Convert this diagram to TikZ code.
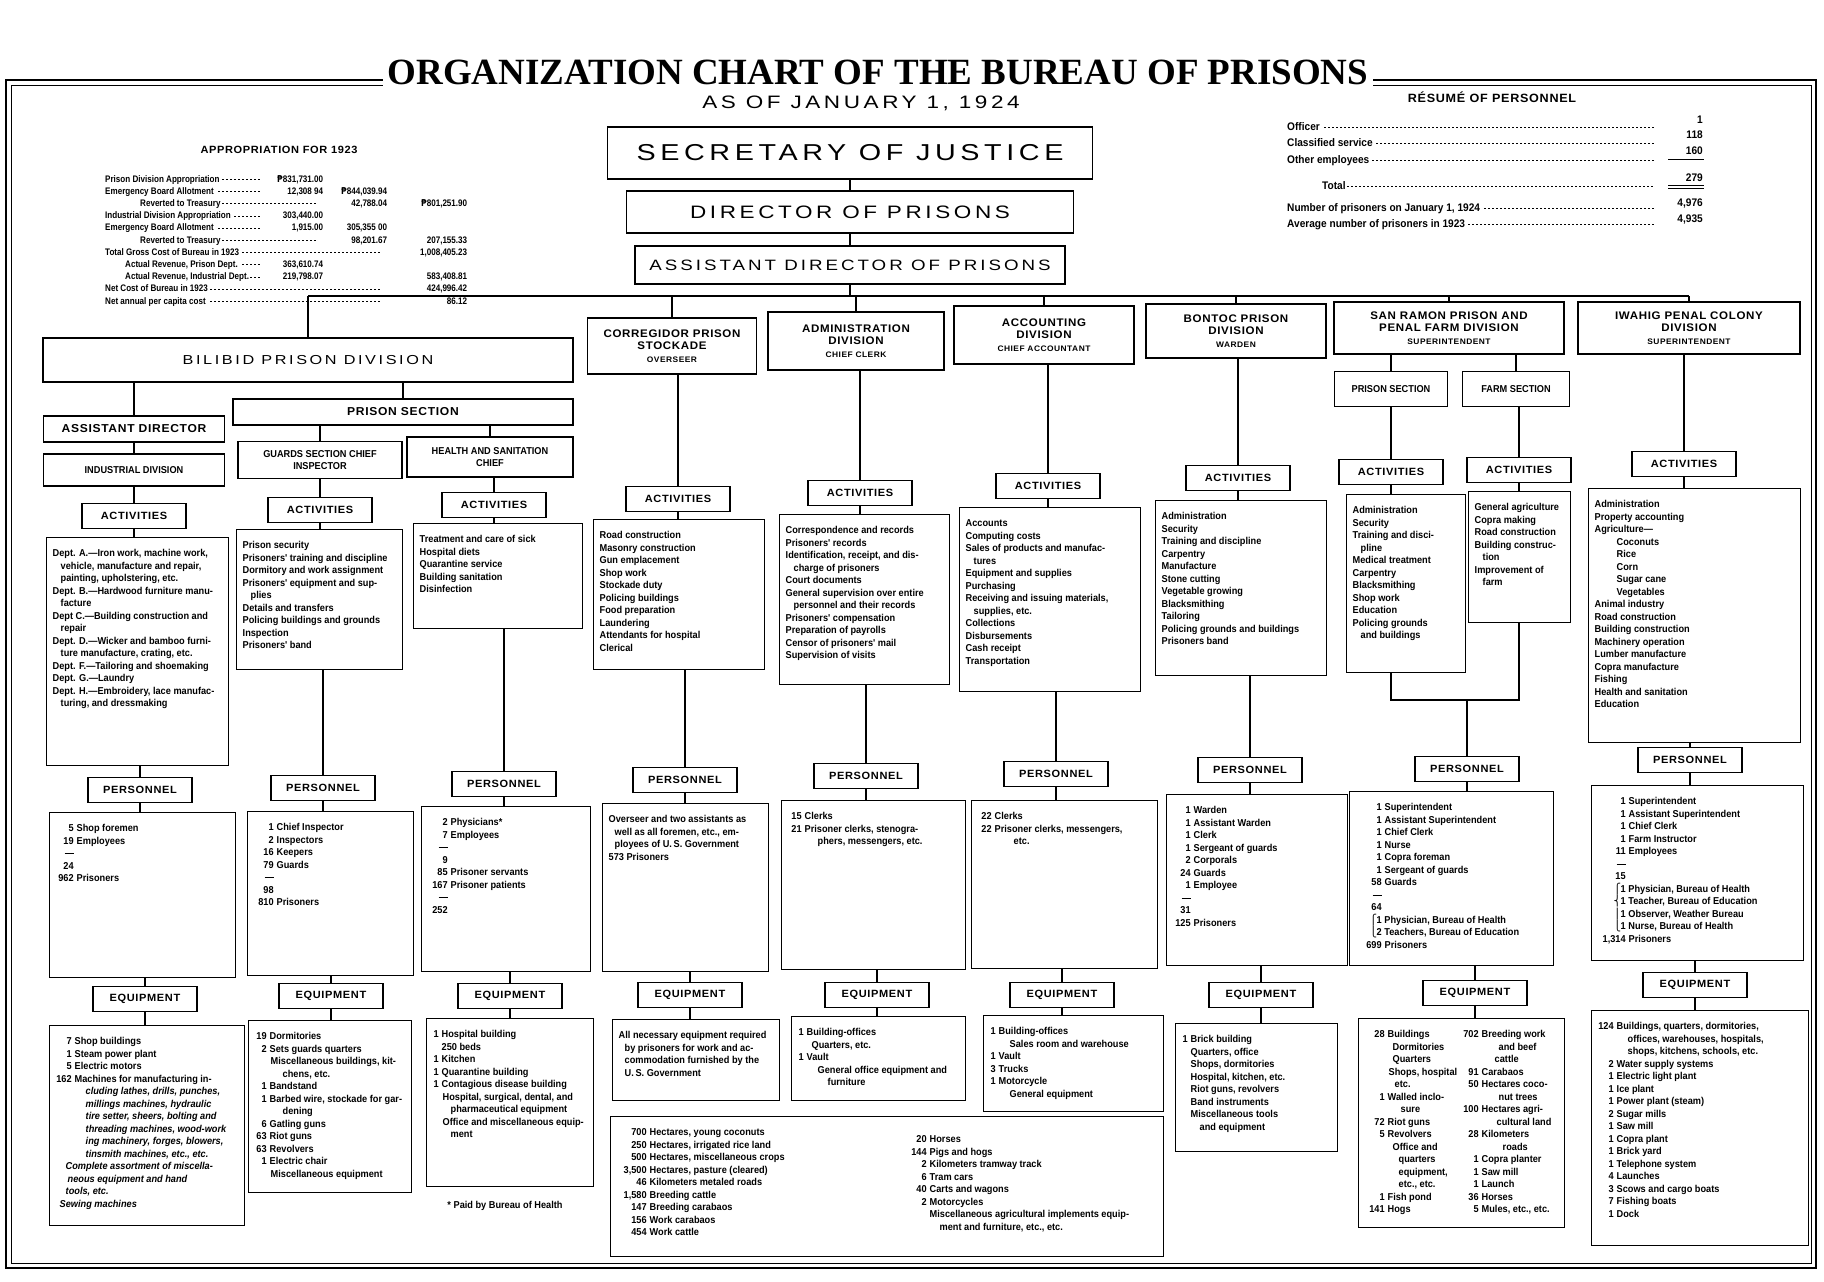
\documentclass[tikz,border=0pt]{standalone}
\usepackage{fontspec}
\setmainfont{Liberation Sans}
\newfontfamily\chartfont{Liberation Sans}[FakeStretch=0.92]
\newfontfamily\tablefont{Liberation Sans}[FakeStretch=0.85]
\newfontfamily\headfont{Liberation Sans}[FakeStretch=1.05,LetterSpace=6]
\newfontfamily\widefont{Liberation Sans}[FakeStretch=1.25,LetterSpace=20]
\newfontfamily\titlefont{Liberation Serif}
\newfontfamily\pesofont{DejaVu Sans}[FakeStretch=0.85]
\newfontfamily\bracefont{DejaVu Sans}

\newcommand\listfont{\chartfont\bfseries\fontsize{10}{12.5}\selectfont}
\newcommand\peso{{\pesofont ₱}}
\newcommand\cell[3]{\parbox[t][\dimexpr#2pt-14pt\relax][t]{\dimexpr#1pt-12pt\relax}{\raggedright\vspace*{5pt}#3}}
\newcommand\cnt[2][14pt]{\makebox[#1][r]{#2}\hspace{3pt}}
\newcommand\ind[1][17pt]{\hspace*{#1}}
\newcommand\brc[1]{\makebox[7pt][l]{\bracefont\mdseries #1}}
\newcommand\sumline[1][14pt]{\makebox[#1][r]{\rule[3pt]{9pt}{0.9pt}}}
\newcommand\leadfill{\leaders\hbox to 4pt{\hss\rule[2.6pt]{2.2pt}{0.5pt}\hss}\hfill\kern4pt}
\newcommand\apA[5]{\hbox to 362pt{\hbox to 160pt{\hspace*{#1}#2\leadfill}\hbox to 58pt{\hfill#3}\hbox to 64pt{\hfill#4}\hbox to 80pt{\hfill#5}}}
\newcommand\apB[4]{\hbox to 362pt{\hbox to 218pt{\hspace*{#1}#2\leadfill}\hbox to 64pt{\hfill#3}\hbox to 80pt{\hfill#4}}}
\newcommand\apC[3]{\hbox to 362pt{\hbox to 282pt{\hspace*{#1}#2\leadfill}\hbox to 80pt{\hfill#3}}}
\newcommand\joinv[2]{\draw[link] (#1) -- (#1 |- #2);}

\begin{document}
\begin{tikzpicture}[x=1pt,y=-1pt,
  box/.style={draw,line width=1.4pt},
  link/.style={line width=1.4pt},
  tag/.style={box,font=\headfont\bfseries\fontsize{10.5}{12}\selectfont,minimum width=104pt,minimum height=25pt,inner sep=2pt},
  list/.style={box,anchor=north west,font=\listfont,inner xsep=6pt,inner ysep=7pt},
  chiefbox/.style={box,inner sep=2pt},
  division/.style={box,align=center,font=\headfont\bfseries\fontsize{11}{12.5}\selectfont,inner sep=2pt},
  unit/.style={box,align=center,font=\chartfont\bfseries\fontsize{10}{11.5}\selectfont,inner sep=2pt},
  rowtext/.style={anchor=base west,inner sep=0pt,font=\chartfont\bfseries\fontsize{11}{13}\selectfont},
  rowval/.style={anchor=base east,inner sep=0pt,font=\chartfont\bfseries\fontsize{11}{13}\selectfont},
  rulestyle/.style={line width=0.9pt}]
\useasboundingbox (0,0) rectangle (1824,1282);
\fill[white] (0,0) rectangle (1824,1282);

% frame
\draw[line width=1.8pt] (6,80) rectangle (1816,1268);
\draw[line width=0.6pt] (11,85) rectangle (1811,1263);

% heading
\node[fill=white,inner sep=5pt,font=\titlefont\bfseries\fontsize{37}{40}\selectfont] (title) at (878,72) {ORGANIZATION CHART OF THE BUREAU OF PRISONS};
\node[font=\widefont\fontsize{18}{21}\selectfont] (asof) at (861,103) {AS OF JANUARY 1, 1924};

% appropriation
\node[font=\headfont\bfseries\fontsize{10.5}{12}\selectfont] (apptitle) at (279,150) {APPROPRIATION FOR 1923};
\node[anchor=north west,inner sep=0pt,font=\tablefont\bfseries\fontsize{9.5}{12.2}\selectfont] (apptable) at (105,175) {\vbox{%
  \apA{0pt}{Prison Division Appropriation}{\peso831,731.00}{}{}
  \apA{0pt}{Emergency Board Allotment}{12,308 94}{\peso844,039.94}{}
  \apB{35pt}{Reverted to Treasury}{42,788.04}{\peso801,251.90}
  \apA{0pt}{Industrial Division Appropriation}{303,440.00}{}{}
  \apA{0pt}{Emergency Board Allotment}{1,915.00}{305,355 00}{}
  \apB{35pt}{Reverted to Treasury}{98,201.67}{207,155.33}
  \apC{0pt}{Total Gross Cost of Bureau in 1923}{1,008,405.23}
  \apA{20pt}{Actual Revenue, Prison Dept.}{363,610.74}{}{}
  \apA{20pt}{Actual Revenue, Industrial Dept.}{219,798.07}{}{583,408.81}
  \apC{0pt}{Net Cost of Bureau in 1923}{424,996.42}
  \apC{0pt}{Net annual per capita cost}{86.12}}};

% resume
\node[font=\headfont\bfseries\fontsize{12}{14}\selectfont] (restitle) at (1492,97) {RÉSUMÉ OF PERSONNEL};
\node[rowtext] (rofficer) at (1287,130) {\hbox to 373pt{Officer\leadfill}};
\node[rowtext] (rclass) at (1287,146) {\hbox to 373pt{Classified service\leadfill}};
\node[rowtext] (rother) at (1287,163) {\hbox to 373pt{Other employees\leadfill}};
\node[rowtext] (rtotal) at (1322,189) {\hbox to 338pt{Total\leadfill}};
\node[rowtext] (rnumber) at (1287,211) {\hbox to 373pt{Number of prisoners on January 1, 1924\leadfill}};
\node[rowtext] (raverage) at (1287,227) {\hbox to 373pt{Average number of prisoners in 1923\leadfill}};
\node[rowval] (vofficer) at (1703,123) {1};
\node[rowval] (vclass) at (1703,138) {118};
\node[rowval] (vother) at (1703,154) {160};
\node[rowval] (vtotal) at (1703,181) {279};
\node[rowval] (vnumber) at (1703,206) {4,976};
\node[rowval] (vaverage) at (1703,222) {4,935};
\draw[rulestyle] (1668,159) -- (1704,159);
\draw[rulestyle] (1668,185) -- (1704,185);
\draw[rulestyle] (1668,188.5) -- (1704,188.5);

% chiefs
\node[chiefbox,minimum width=485pt,minimum height=52pt,font=\widefont\fontsize{23}{25}\selectfont] (sec) at (850,153) {SECRETARY OF JUSTICE};
\node[chiefbox,minimum width=447pt,minimum height=42pt,font=\widefont\fontsize{18}{20}\selectfont] (dir) at (850,212) {DIRECTOR OF PRISONS};
\node[chiefbox,minimum width=430pt,minimum height=38pt,font=\widefont\fontsize{15}{17}\selectfont] (asst) at (850,265) {ASSISTANT DIRECTOR OF PRISONS};

% divisions
\node[box,minimum width=530pt,minimum height=44pt,font=\widefont\fontsize{13}{15}\selectfont] (bilibid) at (308,360) {BILIBID PRISON DIVISION};
\node[division,minimum width=169pt,minimum height=56pt] (cordiv) at (672,346) {CORREGIDOR PRISON\\STOCKADE\\{\fontsize{8}{10}\selectfont OVERSEER}};
\node[division,minimum width=176pt,minimum height=58pt] (admdiv) at (856,341) {ADMINISTRATION\\DIVISION\\{\fontsize{8}{10}\selectfont CHIEF CLERK}};
\node[division,minimum width=180pt,minimum height=58pt] (accdiv) at (1044,335) {ACCOUNTING\\DIVISION\\{\fontsize{8}{10}\selectfont CHIEF ACCOUNTANT}};
\node[division,minimum width=180pt,minimum height=54pt] (bondiv) at (1236,331) {BONTOC PRISON\\DIVISION\\{\fontsize{8}{10}\selectfont WARDEN}};
\node[division,minimum width=230pt,minimum height=52pt] (snrdiv) at (1449,328) {SAN RAMON PRISON AND\\PENAL FARM DIVISION\\{\fontsize{8}{10}\selectfont SUPERINTENDENT}};
\node[division,minimum width=222pt,minimum height=52pt] (iwadiv) at (1689,328) {IWAHIG PENAL COLONY\\DIVISION\\{\fontsize{8}{10}\selectfont SUPERINTENDENT}};

% sections
\node[box,minimum width=181pt,minimum height=26pt,font=\headfont\bfseries\fontsize{11.5}{13}\selectfont] (indasst) at (134,429) {ASSISTANT DIRECTOR};
\node[box,minimum width=340pt,minimum height=26pt,font=\headfont\bfseries\fontsize{11.5}{13}\selectfont] (prisec) at (403,412) {PRISON SECTION};
\node[unit,minimum width=181pt,minimum height=32pt] (indhead) at (134,470) {INDUSTRIAL DIVISION};
\node[unit,minimum width=164pt,minimum height=37pt] (grdhead) at (320,460) {GUARDS SECTION CHIEF\\INSPECTOR};
\node[unit,minimum width=166pt,minimum height=40pt] (hlthead) at (490,457) {HEALTH AND SANITATION\\CHIEF};
\node[unit,minimum width=113pt,minimum height=35pt] (srphead) at (1391,389) {PRISON SECTION};
\node[unit,minimum width=107pt,minimum height=35pt] (srfhead) at (1516,389) {FARM SECTION};

% tags
\node[tag] (indact) at (134,516) {ACTIVITIES};
\node[tag] (grdact) at (320,510) {ACTIVITIES};
\node[tag] (hltact) at (494,505) {ACTIVITIES};
\node[tag] (coract) at (678,499) {ACTIVITIES};
\node[tag] (admact) at (860,493) {ACTIVITIES};
\node[tag] (accact) at (1048,486) {ACTIVITIES};
\node[tag] (bonact) at (1238,478) {ACTIVITIES};
\node[tag] (srpact) at (1391,472) {ACTIVITIES};
\node[tag] (srfact) at (1519,470) {ACTIVITIES};
\node[tag] (iwaact) at (1684,464) {ACTIVITIES};

\node[tag] (indpers) at (140,790) {PERSONNEL};
\node[tag] (grdpers) at (323,788) {PERSONNEL};
\node[tag] (hltpers) at (504,784) {PERSONNEL};
\node[tag] (corpers) at (685,780) {PERSONNEL};
\node[tag] (admpers) at (866,776) {PERSONNEL};
\node[tag] (accpers) at (1056,774) {PERSONNEL};
\node[tag] (bonpers) at (1250,770) {PERSONNEL};
\node[tag] (snrpers) at (1467,769) {PERSONNEL};
\node[tag] (iwapers) at (1690,760) {PERSONNEL};

\node[tag] (indequ) at (145,999) {EQUIPMENT};
\node[tag] (grdequ) at (331,996) {EQUIPMENT};
\node[tag] (hltequ) at (510,996) {EQUIPMENT};
\node[tag] (corequ) at (690,995) {EQUIPMENT};
\node[tag] (admequ) at (877,995) {EQUIPMENT};
\node[tag] (accequ) at (1062,995) {EQUIPMENT};
\node[tag] (bonequ) at (1261,995) {EQUIPMENT};
\node[tag] (snrequ) at (1475,993) {EQUIPMENT};
\node[tag] (iwaequ) at (1695,985) {EQUIPMENT};

% activities
\node[list] (indactbox) at (46,537) {\cell{182}{228}{%
Dept. A.—Iron work, machine work,\\
\ind[8pt]vehicle, manufacture and repair,\\
\ind[8pt]painting, upholstering, etc.\\
Dept. B.—Hardwood furniture manu-\\
\ind[8pt]facture\\
Dept C.—Building construction and\\
\ind[8pt]repair\\
Dept. D.—Wicker and bamboo furni-\\
\ind[8pt]ture manufacture, crating, etc.\\
Dept. F.—Tailoring and shoemaking\\
Dept. G.—Laundry\\
Dept. H.—Embroidery, lace manufac-\\
\ind[8pt]turing, and dressmaking}};
\node[list] (grdactbox) at (236,529) {\cell{166}{140}{%
Prison security\\
Prisoners' training and discipline\\
Dormitory and work assignment\\
Prisoners' equipment and sup-\\
\ind[8pt]plies\\
Details and transfers\\
Policing buildings and grounds\\
Inspection\\
Prisoners' band}};
\node[list] (hltactbox) at (413,523) {\cell{169}{105}{%
Treatment and care of sick\\
Hospital diets\\
Quarantine service\\
Building sanitation\\
Disinfection}};
\node[list] (coractbox) at (593,519) {\cell{171}{150}{%
Road construction\\
Masonry construction\\
Gun emplacement\\
Shop work\\
Stockade duty\\
Policing buildings\\
Food preparation\\
Laundering\\
Attendants for hospital\\
Clerical}};
\node[list] (admactbox) at (779,514) {\cell{170}{170}{%
Correspondence and records\\
Prisoners' records\\
Identification, receipt, and dis-\\
\ind[8pt]charge of prisoners\\
Court documents\\
General supervision over entire\\
\ind[8pt]personnel and their records\\
Prisoners' compensation\\
Preparation of payrolls\\
Censor of prisoners' mail\\
Supervision of visits}};
\node[list] (accactbox) at (959,507) {\cell{181}{184}{%
Accounts\\
Computing costs\\
Sales of products and manufac-\\
\ind[8pt]tures\\
Equipment and supplies\\
Purchasing\\
Receiving and issuing materials,\\
\ind[8pt]supplies, etc.\\
Collections\\
Disbursements\\
Cash receipt\\
Transportation}};
\node[list] (bonactbox) at (1155,500) {\cell{171}{175}{%
Administration\\
Security\\
Training and discipline\\
Carpentry\\
Manufacture\\
Stone cutting\\
Vegetable growing\\
Blacksmithing\\
Tailoring\\
Policing grounds and buildings\\
Prisoners band}};
\node[list] (srpactbox) at (1346,494) {\cell{119}{178}{%
Administration\\
Security\\
Training and disci-\\
\ind[8pt]pline\\
Medical treatment\\
Carpentry\\
Blacksmithing\\
Shop work\\
Education\\
Policing grounds\\
\ind[8pt]and buildings}};
\node[list] (srfactbox) at (1468,491) {\cell{102}{131}{%
General agriculture\\
Copra making\\
Road construction\\
Building construc-\\
\ind[8pt]tion\\
Improvement of\\
\ind[8pt]farm}};
\node[list] (iwaactbox) at (1588,488) {\cell{212}{254}{%
Administration\\
Property accounting\\
Agriculture—\\
\ind[22pt]Coconuts\\
\ind[22pt]Rice\\
\ind[22pt]Corn\\
\ind[22pt]Sugar cane\\
\ind[22pt]Vegetables\\
Animal industry\\
Road construction\\
Building construction\\
Machinery operation\\
Lumber manufacture\\
Copra manufacture\\
Fishing\\
Health and sanitation\\
Education}};

% personnel
\node[list] (indpersbox) at (49,812) {\cell{186}{165}{%
\cnt[18pt]{5}Shop foremen\\
\cnt[18pt]{19}Employees\\
\sumline[18pt]\\
\cnt[18pt]{24}\\
\cnt[18pt]{962}Prisoners}};
\node[list] (grdpersbox) at (247,811) {\cell{166}{164}{%
\cnt[20pt]{1}Chief Inspector\\
\cnt[20pt]{2}Inspectors\\
\cnt[20pt]{16}Keepers\\
\cnt[20pt]{79}Guards\\
\sumline[20pt]\\
\cnt[20pt]{98}\\
\cnt[20pt]{810}Prisoners}};
\node[list] (hltpersbox) at (421,806) {\cell{169}{165}{%
\cnt[20pt]{2}Physicians*\\
\cnt[20pt]{7}Employees\\
\sumline[20pt]\\
\cnt[20pt]{9}\\
\cnt[20pt]{85}Prisoner servants\\
\cnt[20pt]{167}Prisoner patients\\
\sumline[20pt]\\
\cnt[20pt]{252}}};
\node[list] (corpersbox) at (602,803) {\cell{166}{168}{%
Overseer and two assistants as\\
\ind[6pt]well as all foremen, etc., em-\\
\ind[6pt]ployees of U.\,S. Government\\
573 Prisoners}};
\node[list] (admpersbox) at (781,800) {\cell{184}{169}{%
\cnt{15}Clerks\\
\cnt{21}Prisoner clerks, stenogra-\\
\ind[30pt]phers, messengers, etc.}};
\node[list] (accpersbox) at (971,800) {\cell{186}{168}{%
\cnt{22}Clerks\\
\cnt{22}Prisoner clerks, messengers,\\
\ind[36pt]etc.}};
\node[list] (bonpersbox) at (1166,794) {\cell{181}{171}{%
\cnt[18pt]{1}Warden\\
\cnt[18pt]{1}Assistant Warden\\
\cnt[18pt]{1}Clerk\\
\cnt[18pt]{1}Sergeant of guards\\
\cnt[18pt]{2}Corporals\\
\cnt[18pt]{24}Guards\\
\cnt[18pt]{1}Employee\\
\sumline[18pt]\\
\cnt[18pt]{31}\\
\cnt[18pt]{125}Prisoners}};
\node[list] (snrpersbox) at (1349,791) {\cell{204}{174}{%
\cnt[26pt]{1}Superintendent\\
\cnt[26pt]{1}Assistant Superintendent\\
\cnt[26pt]{1}Chief Clerk\\
\cnt[26pt]{1}Nurse\\
\cnt[26pt]{1}Copra foreman\\
\cnt[26pt]{1}Sergeant of guards\\
\cnt[26pt]{58}Guards\\
\sumline[26pt]\\
\cnt[26pt]{64}\\
\ind[14pt]\brc{⎧}1 Physician, Bureau of Health\\
\ind[14pt]\brc{⎩}2 Teachers, Bureau of Education\\
\cnt[26pt]{699}Prisoners}};
\node[list] (iwapersbox) at (1591,785) {\cell{212}{175}{%
\cnt[28pt]{1}Superintendent\\
\cnt[28pt]{1}Assistant Superintendent\\
\cnt[28pt]{1}Chief Clerk\\
\cnt[28pt]{1}Farm Instructor\\
\cnt[28pt]{11}Employees\\
\sumline[28pt]\\
\cnt[28pt]{15}\\
\ind[16pt]\brc{⎧}1 Physician, Bureau of Health\\
\ind[16pt]\brc{⎨}1 Teacher, Bureau of Education\\
\ind[16pt]\brc{⎪}1 Observer, Weather Bureau\\
\ind[16pt]\brc{⎩}1 Nurse, Bureau of Health\\
\cnt[28pt]{1,314}Prisoners}};

% equipment
\node[list] (indequbox) at (49,1025) {\cell{195}{200}{%
\cnt[16pt]{7}Shop buildings\\
\cnt[16pt]{1}Steam power plant\\
\cnt[16pt]{5}Electric motors\\
\cnt[16pt]{162}Machines for manufacturing in-\\
\ind[30pt]\textit{cluding lathes, drills, punches,}\\
\ind[30pt]\textit{millings machines, hydraulic}\\
\ind[30pt]\textit{tire setter, sheers, bolting and}\\
\ind[30pt]\textit{threading machines, wood-work}\\
\ind[30pt]\textit{ing machinery, forges, blowers,}\\
\ind[30pt]\textit{tinsmith machines, etc., etc.}\\
\ind[10pt]\textit{Complete assortment of miscella-}\\
\ind[12pt]\textit{neous equipment and hand}\\
\ind[10pt]\textit{tools, etc.}\\
\ind[4pt]\textit{Sewing machines}}};
\node[list] (grdequbox) at (248,1020) {\cell{163}{172}{%
\cnt[12pt]{19}Dormitories\\
\cnt[12pt]{2}Sets guards quarters\\
\ind[16pt]Miscellaneous buildings, kit-\\
\ind[28pt]chens, etc.\\
\cnt[12pt]{1}Bandstand\\
\cnt[12pt]{1}Barbed wire, stockade for gar-\\
\ind[28pt]dening\\
\cnt[12pt]{6}Gatling guns\\
\cnt[12pt]{63}Riot guns\\
\cnt[12pt]{63}Revolvers\\
\cnt[12pt]{1}Electric chair\\
\ind[16pt]Miscellaneous equipment}};
\node[list] (hltequbox) at (426,1018) {\cell{167}{168}{%
\cnt[6pt]{1}Hospital building\\
\ind[9pt]250 beds\\
\cnt[6pt]{1}Kitchen\\
\cnt[6pt]{1}Quarantine building\\
\cnt[6pt]{1}Contagious disease building\\
\ind[10pt]Hospital, surgical, dental, and\\
\ind[18pt]pharmaceutical equipment\\
\ind[10pt]Office and miscellaneous equip-\\
\ind[18pt]ment}};
\node[list] (corequbox) at (612,1019) {\cell{167}{81}{%
All necessary equipment required\\
\ind[6pt]by prisoners for work and ac-\\
\ind[6pt]commodation furnished by the\\
\ind[6pt]U.\,S. Government}};
\node[list] (admequbox) at (791,1016) {\cell{174}{84}{%
\cnt[6pt]{1}Building-offices\\
\ind[14pt]Quarters, etc.\\
\cnt[6pt]{1}Vault\\
\ind[20pt]General office equipment and\\
\ind[30pt]furniture}};
\node[list] (accequbox) at (983,1015) {\cell{180}{96}{%
\cnt[6pt]{1}Building-offices\\
\ind[20pt]Sales room and warehouse\\
\cnt[6pt]{1}Vault\\
\cnt[6pt]{3}Trucks\\
\cnt[6pt]{1}Motorcycle\\
\ind[20pt]General equipment}};
\node[list] (landbox) at (610,1116) {\cell{553}{140}{%
\begin{minipage}[t]{290pt}\raggedright
\cnt[30pt]{700}Hectares, young coconuts\\
\cnt[30pt]{250}Hectares, irrigated rice land\\
\cnt[30pt]{500}Hectares, miscellaneous crops\\
\cnt[30pt]{3,500}Hectares, pasture (cleared)\\
\cnt[30pt]{46}Kilometers metaled roads\\
\cnt[30pt]{1,580}Breeding cattle\\
\cnt[30pt]{147}Breeding carabaos\\
\cnt[30pt]{156}Work carabaos\\
\cnt[30pt]{454}Work cattle
\end{minipage}%
\begin{minipage}[t]{240pt}\raggedright\vspace*{0pt}
\cnt[20pt]{20}Horses\\
\cnt[20pt]{144}Pigs and hogs\\
\cnt[20pt]{2}Kilometers tramway track\\
\cnt[20pt]{6}Tram cars\\
\cnt[20pt]{40}Carts and wagons\\
\cnt[20pt]{2}Motorcycles\\
\ind[23pt]Miscellaneous agricultural implements equip-\\
\ind[33pt]ment and furniture, etc., etc.
\end{minipage}}};
\node[list] (bonequbox) at (1175,1023) {\cell{162}{128}{%
\cnt[6pt]{1}Brick building\\
\ind[9pt]Quarters, office\\
\ind[9pt]Shops, dormitories\\
\ind[9pt]Hospital, kitchen, etc.\\
\ind[9pt]Riot guns, revolvers\\
\ind[9pt]Band instruments\\
\ind[9pt]Miscellaneous tools\\
\ind[18pt]and equipment}};
\node[list] (snrequbox) at (1358,1018) {\cell{206}{209}{%
\begin{minipage}[t]{98pt}\raggedright
\cnt[20pt]{28}Buildings\\
\ind[28pt]Dormitories\\
\ind[28pt]Quarters\\
\ind[24pt]Shops, hospital\\
\ind[30pt]etc.\\
\cnt[20pt]{1}Walled inclo-\\
\ind[36pt]sure\\
\cnt[20pt]{72}Riot guns\\
\cnt[20pt]{5}Revolvers\\
\ind[28pt]Office and\\
\ind[34pt]quarters\\
\ind[34pt]equipment,\\
\ind[34pt]etc., etc.\\
\cnt[20pt]{1}Fish pond\\
\cnt[20pt]{141}Hogs
\end{minipage}%
\begin{minipage}[t]{96pt}\raggedright
\cnt[16pt]{702}Breeding work\\
\ind[36pt]and beef\\
\ind[32pt]cattle\\
\cnt[16pt]{91}Carabaos\\
\cnt[16pt]{50}Hectares coco-\\
\ind[36pt]nut trees\\
\cnt[16pt]{100}Hectares agri-\\
\ind[34pt]cultural land\\
\cnt[16pt]{28}Kilometers\\
\ind[40pt]roads\\
\cnt[16pt]{1}Copra planter\\
\cnt[16pt]{1}Saw mill\\
\cnt[16pt]{1}Launch\\
\cnt[16pt]{36}Horses\\
\cnt[16pt]{5}Mules, etc., etc.
\end{minipage}}};
\node[list] (iwaequbox) at (1591,1010) {\cell{217}{235}{%
\cnt[16pt]{124}Buildings, quarters, dormitories,\\
\ind[30pt]offices, warehouses, hospitals,\\
\ind[30pt]shops, kitchens, schools, etc.\\
\cnt[16pt]{2}Water supply systems\\
\cnt[16pt]{1}Electric light plant\\
\cnt[16pt]{1}Ice plant\\
\cnt[16pt]{1}Power plant (steam)\\
\cnt[16pt]{2}Sugar mills\\
\cnt[16pt]{1}Saw mill\\
\cnt[16pt]{1}Copra plant\\
\cnt[16pt]{1}Brick yard\\
\cnt[16pt]{1}Telephone system\\
\cnt[16pt]{4}Launches\\
\cnt[16pt]{3}Scows and cargo boats\\
\cnt[16pt]{7}Fishing boats\\
\cnt[16pt]{1}Dock}};

\node[font=\listfont] (paidnote) at (505,1206) {* Paid by Bureau of Health};

% connectors
\draw[link] (sec) -- (dir);
\draw[link] (dir) -- (asst);
\coordinate (busy) at (0,296);
\coordinate (bus) at (asst.south |- busy);
\draw[link] (asst.south) -- (bus);
\draw[link] (bilibid.north |- bus) -- (iwadiv.north |- bus);
\foreach \d in {bilibid,cordiv,admdiv,accdiv,bondiv,snrdiv,iwadiv} {\joinv{\d.north}{bus}}

\joinv{indasst.north}{bilibid.south}
\joinv{prisec.north}{bilibid.south}
\joinv{indasst.south}{indhead.north}
\joinv{grdhead.north}{prisec.south}
\joinv{hlthead.north}{prisec.south}
\joinv{srphead.north}{snrdiv.south}
\joinv{srfhead.north}{snrdiv.south}

\foreach \p/\q in {indhead/ind,grdhead/grd,hlthead/hlt,cordiv/cor,admdiv/adm,accdiv/acc,bondiv/bon,srphead/srp,srfhead/srf,iwadiv/iwa}
  {\joinv{\q act.north}{\p.south}\joinv{\q act.south}{\q actbox.north}}
\foreach \q in {ind,grd,hlt,cor,adm,acc,bon,iwa}
  {\joinv{\q pers.north}{\q actbox.south}}
\foreach \q in {ind,grd,hlt,cor,adm,acc,bon,snr,iwa}
  {\joinv{\q pers.south}{\q persbox.north}\joinv{\q equ.north}{\q persbox.south}\joinv{\q equ.south}{\q equbox.north}}

% san ramon sections join
\coordinate (joiny) at (0,700);
\coordinate (srjoin) at (snrpers.north |- joiny);
\draw[link] (srpactbox.south -| srpact) -- (srpact |- joiny) -- (srfact |- joiny) -- (srfactbox.south -| srfact);
\draw[link] (srjoin) -- (snrpers.north);
\end{tikzpicture}
\end{document}
